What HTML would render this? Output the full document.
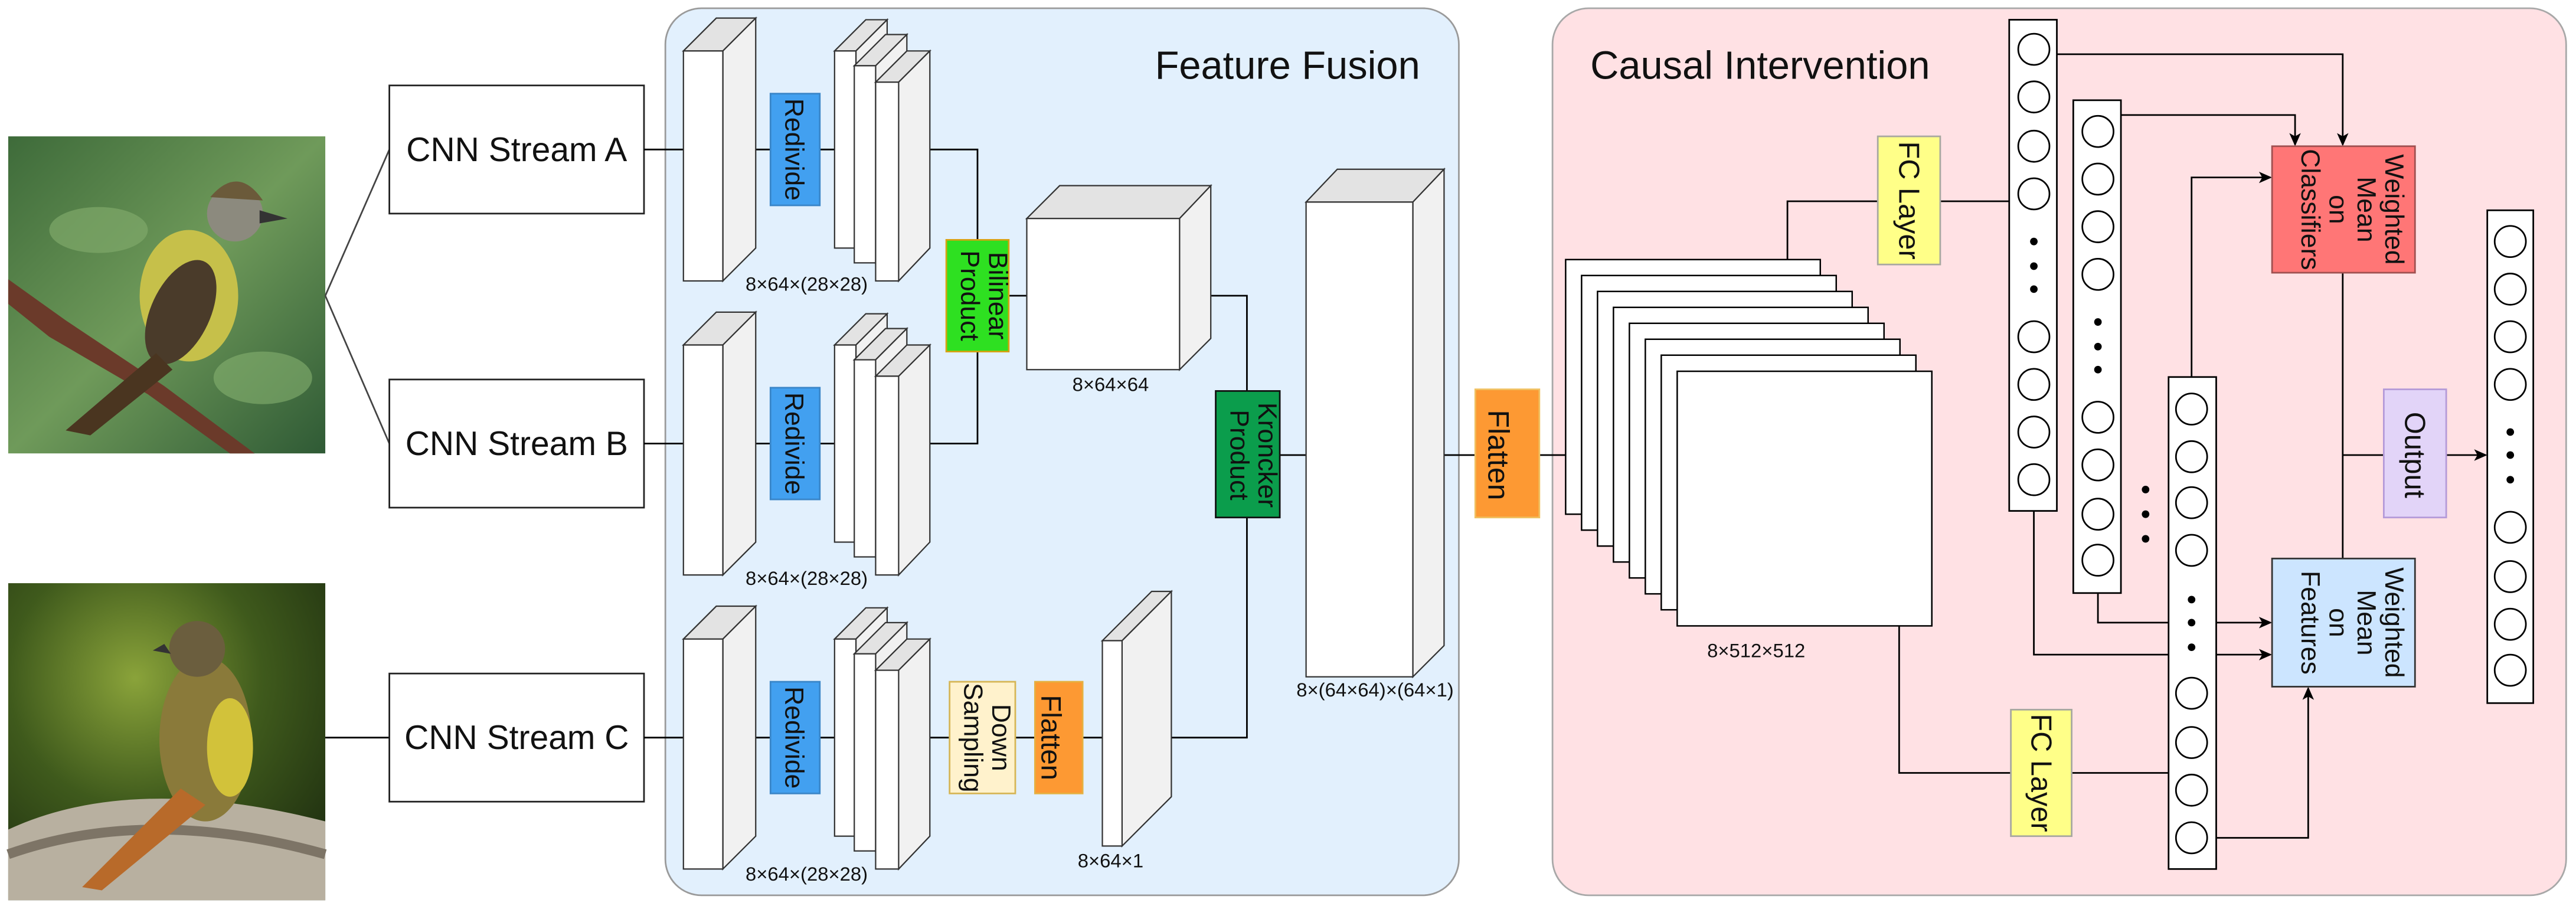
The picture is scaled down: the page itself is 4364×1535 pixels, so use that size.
<!DOCTYPE html>
<html><head><meta charset="utf-8"><style>
html,body{margin:0;padding:0;background:#fff;}
svg{display:block;}
text{font-family:"Liberation Sans",sans-serif;fill:#111;}
</style></head><body>
<svg width="4364" height="1535" viewBox="0 0 1568 551.5" xmlns="http://www.w3.org/2000/svg">
<defs>
<linearGradient id="g1" x1="0" y1="0" x2="1" y2="1"><stop offset="0" stop-color="#3e6b3a"/><stop offset="0.5" stop-color="#6f9a5a"/><stop offset="1" stop-color="#2f5a35"/></linearGradient>
<radialGradient id="g2" cx="0.4" cy="0.3" r="0.8"><stop offset="0" stop-color="#8aa33a"/><stop offset="0.5" stop-color="#3f5a1c"/><stop offset="1" stop-color="#1e2e10"/></radialGradient>
<marker id="ar" markerWidth="8" markerHeight="8" refX="7" refY="4" orient="auto" markerUnits="userSpaceOnUse"><path d="M0,0.5 L8,4 L0,7.5 L2,4 Z" fill="#000"/></marker>
</defs>

<rect x="5" y="83" width="193" height="193" fill="url(#g1)"/>
<ellipse cx="60" cy="140" rx="30" ry="14" fill="#7fa86a" opacity="0.7"/>
<ellipse cx="160" cy="230" rx="30" ry="16" fill="#86b06f" opacity="0.6"/>
<path d="M5,185 L30,205 L90,240 L140,276 L155,276 L100,235 L40,195 L5,170Z" fill="#6b3a2a"/>
<ellipse cx="115" cy="180" rx="30" ry="40" fill="#c6c04a"/>
<ellipse cx="110" cy="190" rx="18" ry="34" fill="#4a3b2a" transform="rotate(25 110 190)"/>
<circle cx="143" cy="130" r="17" fill="#8c8a7e"/>
<path d="M128,120 Q145,100 160,122 Z" fill="#6b5a3a"/>
<path d="M158,128 L175,133 L158,136Z" fill="#333"/>
<path d="M95,215 L40,262 L55,265 L105,225Z" fill="#4a3520"/>

<rect x="5" y="355" width="193" height="193" fill="url(#g2)"/>
<path d="M5,505 Q80,470 198,500 L198,548 L5,548Z" fill="#b8b0a0"/>
<path d="M5,520 Q90,490 198,520" stroke="#7d7466" stroke-width="6" fill="none"/>
<ellipse cx="125" cy="450" rx="28" ry="50" fill="#8a7a3a"/>
<ellipse cx="140" cy="455" rx="14" ry="30" fill="#d2c23a"/>
<circle cx="120" cy="395" r="17" fill="#6b5e3e"/>
<path d="M100,392 L93,396 L104,398Z" fill="#333"/>
<path d="M110,480 L50,540 L62,542 L125,490Z" fill="#b86a2a"/>

<g stroke="#444" stroke-width="1" fill="none">
<line x1="198" y1="180" x2="237" y2="91"/>
<line x1="198" y1="180" x2="237" y2="270"/>
</g>
<line x1="198" y1="449" x2="237" y2="449" stroke="#000" stroke-width="1"/>

<g fill="#fff" stroke="#222" stroke-width="1">
<rect x="237" y="52" width="155" height="78"/>
<rect x="237" y="231" width="155" height="78"/>
<rect x="237" y="410" width="155" height="78"/>
</g>
<g font-size="20.5" text-anchor="middle">
<text x="314.5" y="98">CNN Stream A</text>
<text x="314.5" y="277">CNN Stream B</text>
<text x="314.5" y="456">CNN Stream C</text>
</g>

<rect x="405" y="5" width="483" height="540" rx="22" fill="#e2f0fd" stroke="#9a9a9a" stroke-width="1"/>
<text x="703" y="48" font-size="24">Feature Fusion</text>

<rect x="945" y="5" width="617" height="540" rx="22" fill="#ffe1e4" stroke="#a8a8a8" stroke-width="1"/>
<text x="968" y="48" font-size="24">Causal Intervention</text>

<g stroke="#000" stroke-width="1">
<line x1="392" y1="91" x2="416" y2="91"/><line x1="440" y1="91" x2="469" y2="91"/><line x1="499" y1="91" x2="508" y2="91"/>
<line x1="392" y1="270" x2="416" y2="270"/><line x1="440" y1="270" x2="469" y2="270"/><line x1="499" y1="270" x2="508" y2="270"/>
<line x1="392" y1="449" x2="416" y2="449"/><line x1="440" y1="449" x2="469" y2="449"/><line x1="499" y1="449" x2="508" y2="449"/>
<polyline points="566,91 595,91 595,146" fill="none"/>
<polyline points="566,270 595,270 595,214" fill="none"/>
<line x1="614" y1="180" x2="625" y2="180"/>
<polyline points="737,180 759,180 759,238" fill="none"/>
<polyline points="759,315 759,449 713,449" fill="none"/>
<line x1="566" y1="449" x2="578" y2="449"/><line x1="618" y1="449" x2="630" y2="449"/><line x1="659" y1="449" x2="671" y2="449"/>
<line x1="779" y1="277" x2="795" y2="277"/>
<line x1="879" y1="277" x2="898" y2="277"/>
<line x1="937" y1="277" x2="953" y2="277"/>
</g>

<g stroke="#333" stroke-width="0.8">
<g>
<polygon points="416,31 436,11 460,11 440,31" fill="#e3e3e3"/><polygon points="440,31 460,11 460,151 440,171" fill="#f1f1f1"/><rect x="416" y="31" width="24" height="140" fill="#fff"/>
</g>
<g>
<polygon points="416,210 436,190 460,190 440,210" fill="#e3e3e3"/><polygon points="440,210 460,190 460,330 440,350" fill="#f1f1f1"/><rect x="416" y="210" width="24" height="140" fill="#fff"/>
</g>
<g>
<polygon points="416,389 436,369 460,369 440,389" fill="#e3e3e3"/><polygon points="440,389 460,369 460,509 440,529" fill="#f1f1f1"/><rect x="416" y="389" width="24" height="140" fill="#fff"/>
</g>
</g>

<g stroke="#333" stroke-width="0.8">
<g>
<polygon points="508,31 527,12 540,12 521,31" fill="#e3e3e3"/><polygon points="521,31 540,12 540,132 521,151" fill="#f1f1f1"/><rect x="508" y="31" width="13" height="120" fill="#fff"/>
<polygon points="520,40 539,21 552,21 533,40" fill="#e3e3e3"/><polygon points="533,40 552,21 552,141 533,160" fill="#f1f1f1"/><rect x="520" y="40" width="13" height="120" fill="#fff"/>
<polygon points="533,50 552,31 566,31 547,50" fill="#e3e3e3"/><polygon points="547,50 566,31 566,151 547,171" fill="#f1f1f1"/><rect x="533" y="50" width="14" height="121" fill="#fff"/>
</g>
<g transform="translate(0,179)">
<polygon points="508,31 527,12 540,12 521,31" fill="#e3e3e3"/><polygon points="521,31 540,12 540,132 521,151" fill="#f1f1f1"/><rect x="508" y="31" width="13" height="120" fill="#fff"/>
<polygon points="520,40 539,21 552,21 533,40" fill="#e3e3e3"/><polygon points="533,40 552,21 552,141 533,160" fill="#f1f1f1"/><rect x="520" y="40" width="13" height="120" fill="#fff"/>
<polygon points="533,50 552,31 566,31 547,50" fill="#e3e3e3"/><polygon points="547,50 566,31 566,151 547,171" fill="#f1f1f1"/><rect x="533" y="50" width="14" height="121" fill="#fff"/>
</g>
<g transform="translate(0,358)">
<polygon points="508,31 527,12 540,12 521,31" fill="#e3e3e3"/><polygon points="521,31 540,12 540,132 521,151" fill="#f1f1f1"/><rect x="508" y="31" width="13" height="120" fill="#fff"/>
<polygon points="520,40 539,21 552,21 533,40" fill="#e3e3e3"/><polygon points="533,40 552,21 552,141 533,160" fill="#f1f1f1"/><rect x="520" y="40" width="13" height="120" fill="#fff"/>
<polygon points="533,50 552,31 566,31 547,50" fill="#e3e3e3"/><polygon points="547,50 566,31 566,151 547,171" fill="#f1f1f1"/><rect x="533" y="50" width="14" height="121" fill="#fff"/>
</g>
<polygon points="625,133 645,113 737,113 718,133" fill="#e3e3e3"/>
<polygon points="718,133 737,113 737,206 718,225" fill="#f1f1f1"/>
<rect x="625" y="133" width="93" height="92" fill="#fff"/>
<polygon points="671,390 701,360 713,360 683,390" fill="#e3e3e3"/>
<polygon points="683,390 713,360 713,485 683,515" fill="#f1f1f1"/>
<rect x="671" y="390" width="12" height="125" fill="#fff"/>
<polygon points="795,123 814,103 879,103 860,123" fill="#e3e3e3"/>
<polygon points="860,123 879,103 879,393 860,412" fill="#f1f1f1"/>
<rect x="795" y="123" width="65" height="289" fill="#fff"/>
</g>

<g font-size="11.8" text-anchor="middle" fill="#222">
<text x="491" y="177">8×64×(28×28)</text>
<text x="491" y="356">8×64×(28×28)</text>
<text x="491" y="536">8×64×(28×28)</text>
<text x="676" y="238">8×64×64</text>
<text x="676" y="528">8×64×1</text>
<text x="837" y="424">8×(64×64)×(64×1)</text>
<text x="1069" y="400">8×512×512</text>
</g>

<g stroke-width="1">
<rect x="469" y="57" width="30" height="68" fill="#42a0f0" stroke="#3a86c8"/>
<rect x="469" y="236" width="30" height="68" fill="#42a0f0" stroke="#3a86c8"/>
<rect x="469" y="415" width="30" height="68" fill="#42a0f0" stroke="#3a86c8"/>
<rect x="576" y="146" width="38" height="68" fill="#2ee021" stroke="#d7a212"/>
<rect x="740" y="238" width="39" height="77" fill="#0b9d4c" stroke="#111"/>
<rect x="578" y="415" width="40" height="68" fill="#fff2cc" stroke="#d6b656"/>
<rect x="630" y="415" width="29" height="68" fill="#fd9933" stroke="#e6b040"/>
<rect x="898" y="237" width="39" height="78" fill="#fd9933" stroke="#f0c060"/>
</g>
<g font-size="16">
<text transform="translate(478,91) rotate(90)" text-anchor="middle">Redivide</text>
<text transform="translate(478,270) rotate(90)" text-anchor="middle">Redivide</text>
<text transform="translate(478,449) rotate(90)" text-anchor="middle">Redivide</text>
<text transform="translate(601,180) rotate(90)" text-anchor="middle"><tspan x="0" y="-1">Bilinear</tspan><tspan x="0" y="16">Product</tspan></text>
<text transform="translate(765,277) rotate(90)" text-anchor="middle"><tspan x="0" y="-1">Kroncker</tspan><tspan x="0" y="16">Product</tspan></text>
<text transform="translate(603,449) rotate(90)" text-anchor="middle"><tspan x="0" y="-1">Down</tspan><tspan x="0" y="16">Sampling</tspan></text>
<text transform="translate(639,449) rotate(90)" text-anchor="middle" dy="5" font-size="17">Flatten</text>
<text transform="translate(912,277) rotate(90)" text-anchor="middle" dy="6" font-size="18">Flatten</text>
</g>

<g fill="#fff" stroke="#000" stroke-width="0.9">
<rect x="953" y="158" width="155" height="155"/>
<rect x="962.7" y="167.7" width="155" height="155"/>
<rect x="972.4" y="177.4" width="155" height="155"/>
<rect x="982.1" y="187.1" width="155" height="155"/>
<rect x="991.8" y="196.8" width="155" height="155"/>
<rect x="1001.5" y="206.5" width="155" height="155"/>
<rect x="1011.2" y="216.2" width="155" height="155"/>
<rect x="1020.9" y="226" width="155" height="155"/>
</g>

<g stroke="#000" stroke-width="1" fill="none">
<polyline points="1088,158 1088,122.5 1143,122.5"/>
<line x1="1181" y1="122.5" x2="1223" y2="122.5"/>
<polyline points="1156,381 1156,470.5 1224,470.5"/>
<line x1="1261" y1="470.5" x2="1320" y2="470.5"/>
<polyline points="1252,33 1426,33 1426,88" marker-end="url(#ar)"/>
<polyline points="1291,70 1397,70 1397,88" marker-end="url(#ar)"/>
<polyline points="1334,229.5 1334,108 1382,108" marker-end="url(#ar)"/>
<polyline points="1277,351 1277,379 1382,379" marker-end="url(#ar)"/>
<polyline points="1238,302 1238,398.5 1382,398.5" marker-end="url(#ar)"/>
<polyline points="1344,510 1405,510 1405,419" marker-end="url(#ar)"/>
<line x1="1426" y1="166" x2="1426" y2="340"/>
<line x1="1426" y1="277" x2="1451" y2="277"/>
<line x1="1489" y1="277" x2="1513" y2="277" marker-end="url(#ar)"/>
</g>

<g stroke-width="1">
<rect x="1143" y="83" width="38" height="78" fill="#ffff88" stroke="#a8a8a0"/>
<rect x="1224" y="432" width="37" height="77" fill="#ffff88" stroke="#a8a8a0"/>
<rect x="1383" y="89" width="87" height="77" fill="#ff7676" stroke="#a05050"/>
<rect x="1383" y="340" width="87" height="78" fill="#cce5ff" stroke="#333"/>
<rect x="1451" y="237" width="38" height="78" fill="#e2d4f8" stroke="#b49ad8"/>
</g>
<g font-size="17.5">
<text transform="translate(1162,122) rotate(90)" text-anchor="middle" dy="6">FC Layer</text>
<text transform="translate(1242.5,470.5) rotate(90)" text-anchor="middle" dy="6">FC Layer</text>
<text transform="translate(1470,277) rotate(90)" text-anchor="middle" dy="6">Output</text>
</g>
<g font-size="16">
<text transform="translate(1426,127.5) rotate(90)" text-anchor="middle"><tspan x="0" y="-26">Weighted</tspan><tspan x="0" y="-9">Mean</tspan><tspan x="0" y="8">on</tspan><tspan x="0" y="25">Classifiers</tspan></text>
<text transform="translate(1426,379) rotate(90)" text-anchor="middle"><tspan x="0" y="-26">Weighted</tspan><tspan x="0" y="-9">Mean</tspan><tspan x="0" y="8">on</tspan><tspan x="0" y="25">Features</tspan></text>
</g>

<g fill="#fff" stroke="#000" stroke-width="1">
<rect x="1223" y="12" width="29" height="299"/>
<rect x="1262" y="61" width="29" height="300"/>
<rect x="1320" y="229.5" width="29" height="299.5"/>
<rect x="1514" y="128" width="28" height="300"/>
</g>
<g fill="#fff" stroke="#000" stroke-width="1">
<circle cx="1238" cy="30" r="9.5"/><circle cx="1238" cy="59" r="9.5"/><circle cx="1238" cy="89" r="9.5"/><circle cx="1238" cy="118" r="9.5"/>
<circle cx="1238" cy="205" r="9.5"/><circle cx="1238" cy="234" r="9.5"/><circle cx="1238" cy="263" r="9.5"/><circle cx="1238" cy="292" r="9.5"/>
<circle cx="1277" cy="80" r="9.5"/><circle cx="1277" cy="109" r="9.5"/><circle cx="1277" cy="138" r="9.5"/><circle cx="1277" cy="167" r="9.5"/>
<circle cx="1277" cy="254" r="9.5"/><circle cx="1277" cy="283" r="9.5"/><circle cx="1277" cy="313" r="9.5"/><circle cx="1277" cy="341" r="9.5"/>
<circle cx="1334" cy="249" r="9.5"/><circle cx="1334" cy="278" r="9.5"/><circle cx="1334" cy="306" r="9.5"/><circle cx="1334" cy="335" r="9.5"/>
<circle cx="1334" cy="422" r="9.5"/><circle cx="1334" cy="452" r="9.5"/><circle cx="1334" cy="481" r="9.5"/><circle cx="1334" cy="510" r="9.5"/>
<circle cx="1528" cy="147" r="9.5"/><circle cx="1528" cy="176" r="9.5"/><circle cx="1528" cy="205" r="9.5"/><circle cx="1528" cy="234" r="9.5"/>
<circle cx="1528" cy="321" r="9.5"/><circle cx="1528" cy="351" r="9.5"/><circle cx="1528" cy="380" r="9.5"/><circle cx="1528" cy="408" r="9.5"/>
</g>
<g fill="#000">
<circle cx="1238" cy="147" r="2.3"/><circle cx="1238" cy="162" r="2.3"/><circle cx="1238" cy="176" r="2.3"/>
<circle cx="1277" cy="196" r="2.3"/><circle cx="1277" cy="211" r="2.3"/><circle cx="1277" cy="225" r="2.3"/>
<circle cx="1306" cy="298" r="2.3"/><circle cx="1306" cy="313" r="2.3"/><circle cx="1306" cy="328" r="2.3"/>
<circle cx="1334" cy="365" r="2.3"/><circle cx="1334" cy="379" r="2.3"/><circle cx="1334" cy="394" r="2.3"/>
<circle cx="1528" cy="263" r="2.3"/><circle cx="1528" cy="277" r="2.3"/><circle cx="1528" cy="292" r="2.3"/>
</g>
</svg>
</body></html>
